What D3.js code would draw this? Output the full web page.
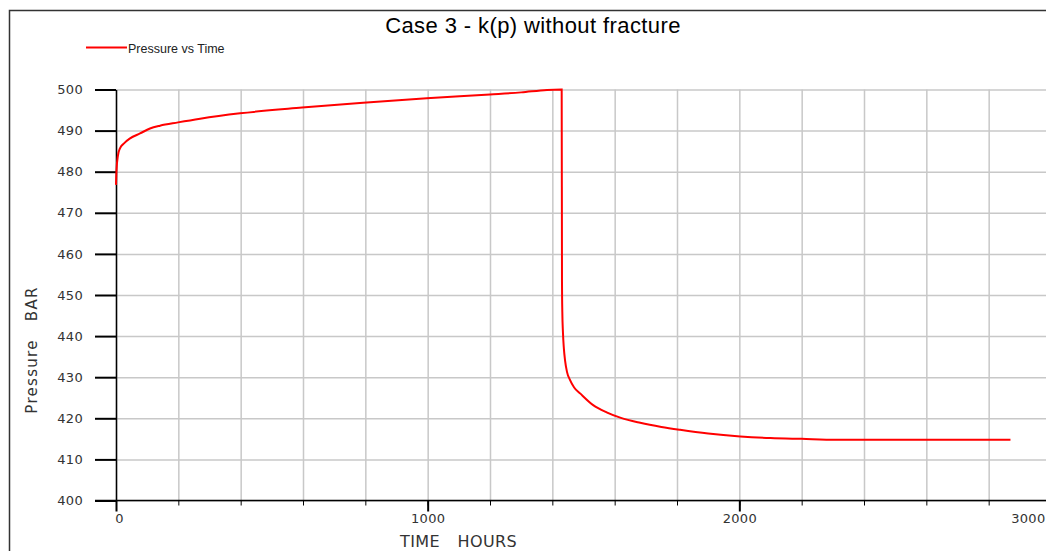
<!DOCTYPE html>
<html>
<head>
<meta charset="utf-8">
<script src="https://cdn.jsdelivr.net/npm/d3@7"></script>
<style>
  html, body { margin: 0; padding: 0; background: #fff; overflow: hidden; }
  svg { display: block; }
</style>
</head>
<body>
<svg id="chart" width="1046" height="551"></svg>
<script>
// ---- data ----
const title = "Case 3 - k(p) without fracture";
const seriesName = "Pressure vs Time";
const xTitle = "TIME HOURS";
const yTitle = "Pressure BAR";
const timeHours = [0, 1.6, 6.4, 12.8, 25.7, 45, 77, 109, 141, 199, 270, 398, 597, 793, 997, 1200, 1300, 1383, 1430, 1431, 1432, 1434, 1437, 1441, 1447, 1457, 1470, 1490, 1531, 1576, 1620, 1682, 1750, 1810, 1900, 2003, 2100, 2200, 2311, 2870];
const pressureBar = [476.8, 480.4, 484, 485.7, 486.9, 488.1, 489.3, 490.5, 491.2, 492, 492.9, 494.2, 495.6, 496.8, 497.9, 498.8, 499.3, 499.9, 500, 453, 446, 441, 437, 434, 431.3, 429.3, 427.5, 426, 423.2, 421.4, 420.1, 418.9, 417.9, 417.2, 416.3, 415.6, 415.2, 415, 414.8, 414.8];
const xMajorTicks = [0, 1000, 2000, 3000];
const xMinorTicks = d3.range(0, 3001, 200);
const yTicks = [400, 410, 420, 430, 440, 450, 460, 470, 480, 490, 500];

// ---- layout ----
const svg = d3.select("#chart");
const x = d3.scaleLinear().domain([0, 3000]).range([116, 1051]);
const y = d3.scaleLinear().domain([400, 500]).range([500.5, 89.5]);

// frame
svg.append("path")
  .attr("d", "M9.5,551 V10.5 H1046")
  .attr("fill", "none").attr("stroke", "#333").attr("stroke-width", 1.5);

// title
svg.append("text")
  .attr("x", 533).attr("y", 33)
  .attr("text-anchor", "middle")
  .attr("font-family", "Liberation Sans, Arial, sans-serif")
  .attr("font-size", 22).attr("letter-spacing", 0.4)
  .attr("fill", "#000")
  .text(title);

// legend
svg.append("line").attr("x1", 86).attr("x2", 127).attr("y1", 47.5).attr("y2", 47.5)
  .attr("stroke", "#ff0000").attr("stroke-width", 2);
svg.append("text").attr("x", 128).attr("y", 52.5)
  .attr("font-family", "Liberation Sans, Arial, sans-serif")
  .attr("font-size", 12.5).attr("fill", "#222")
  .text(seriesName);

// grid
const gridX = svg.append("g").attr("transform", "translate(0,89.5)")
  .call(d3.axisBottom(x).tickValues(xMinorTicks).tickSize(411).tickFormat(""));
gridX.select(".domain").remove();
gridX.selectAll("line").attr("stroke", "#c8c8c8").attr("stroke-width", 1.5);

const gridY = svg.append("g").attr("transform", "translate(116,0)")
  .call(d3.axisRight(y).tickValues(yTicks).tickSize(940).tickFormat(""));
gridY.select(".domain").remove();
gridY.selectAll("line").attr("stroke", "#c8c8c8").attr("stroke-width", 1.5);

// x axis minor ticks
const xMinor = svg.append("g").attr("transform", "translate(0,500.5)")
  .call(d3.axisBottom(x).tickValues(xMinorTicks).tickSize(5).tickFormat(""));
xMinor.select(".domain").remove();
xMinor.selectAll("line").attr("stroke", "#000").attr("stroke-width", 1);

// x axis major
const xAxis = svg.append("g").attr("transform", "translate(0,500.5)")
  .call(d3.axisBottom(x).tickValues(xMajorTicks).tickSize(11).tickPadding(2).tickFormat(d3.format("d")));
xAxis.select(".domain").remove();
xAxis.selectAll("line").attr("stroke", "#000").attr("stroke-width", 2);
xAxis.selectAll("text")
  .attr("font-family", "DejaVu Sans, sans-serif").attr("font-size", 13)
  .attr("letter-spacing", 0.3).attr("fill", "#333");
xAxis.selectAll("text").filter(d => d === 0).attr("dx", 3);
xAxis.selectAll("text").filter(d => d === 3000)
  .attr("text-anchor", "end").attr("x", 1045 - x(3000));

// x axis line
svg.append("line").attr("x1", 95).attr("x2", 1046).attr("y1", 500.5).attr("y2", 500.5)
  .attr("stroke", "#000").attr("stroke-width", 1.5);

// y axis
const yAxis = svg.append("g").attr("transform", "translate(116,0)")
  .call(d3.axisLeft(y).tickValues(yTicks).tickSize(21).tickSizeOuter(0).tickPadding(12).tickFormat(d3.format("d")));
yAxis.select(".domain").attr("stroke", "#000").attr("stroke-width", 1.5);
yAxis.selectAll("line").attr("stroke", "#000").attr("stroke-width", 2);
yAxis.selectAll("text")
  .attr("font-family", "DejaVu Sans, sans-serif").attr("font-size", 13)
  .attr("letter-spacing", 0.3).attr("fill", "#333");

// axis titles
svg.append("text")
  .attr("x", 400).attr("y", 547)
  .attr("font-family", "DejaVu Sans, sans-serif").attr("font-size", 16)
  .attr("word-spacing", 12).attr("letter-spacing", 0.4)
  .attr("fill", "#333")
  .text(xTitle);

svg.append("text")
  .attr("transform", "translate(37,350) rotate(-90)")
  .attr("text-anchor", "middle")
  .attr("font-family", "DejaVu Sans, sans-serif").attr("font-size", 15)
  .attr("word-spacing", 12).attr("letter-spacing", 1.3)
  .attr("fill", "#333")
  .text(yTitle);

// series line
const data = timeHours.map((t, i) => [t, pressureBar[i]]);
svg.append("path")
  .datum(data)
  .attr("fill", "none")
  .attr("stroke", "#ff0000")
  .attr("stroke-width", 2)
  .attr("d", d3.line().x(d => x(d[0])).y(d => y(d[1])).curve(d3.curveMonotoneX));
</script>
</body>
</html>
